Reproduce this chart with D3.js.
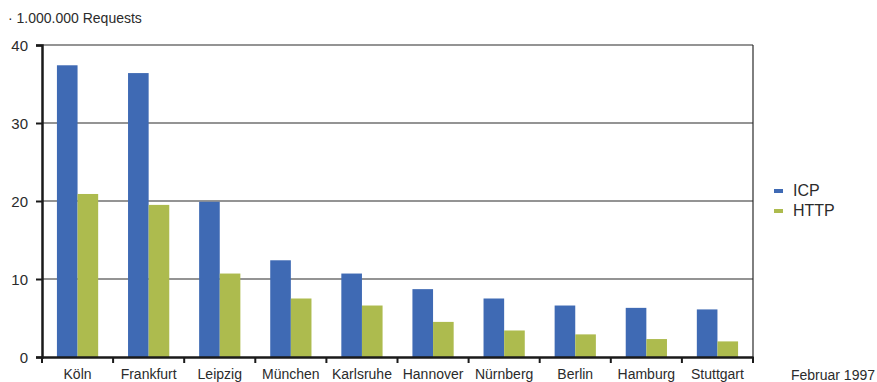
<!DOCTYPE html>
<html>
<head>
<meta charset="utf-8">
<script src="https://cdn.jsdelivr.net/npm/d3@7"></script>
<style>
  html, body { margin: 0; padding: 0; background: #fff; }
  svg { display: block; font-family: "Liberation Sans", Arial, sans-serif; }
</style>
</head>
<body>
<svg id="chart" width="877" height="382"></svg>
<script>
// Requests per city (millions), February 1997
const cities = ["Köln", "Frankfurt", "Leipzig", "München", "Karlsruhe", "Hannover", "Nürnberg", "Berlin", "Hamburg", "Stuttgart"];
const seriesNames = ["ICP", "HTTP"];
const icpValues  = [37.4, 36.4, 19.9, 12.4, 10.7, 8.7, 7.5, 6.6, 6.3, 6.1];
const httpValues = [20.9, 19.5, 10.7, 7.5, 6.6, 4.5, 3.4, 2.9, 2.3, 2.0];
const yTicks = [0, 10, 20, 30, 40];
const unitLabel = "· 1.000.000 Requests";
const dateLabel = "Februar 1997";

const colors = { ICP: "#3f6ab4", HTTP: "#adbb4e" };
const textColor = "#2b2b2b";

const svg = d3.select("#chart");
const plotLeft = 42, plotRight = 753, plotTop = 45, plotBottom = 357;

const x0 = d3.scaleBand().domain(cities).range([plotLeft, plotRight]).padding(0);
const bw = x0.bandwidth();
const x1 = d3.scaleBand().domain(seriesNames).range([bw * 0.21, bw * 0.79]).padding(0);
const y = d3.scaleLinear().domain([0, 40]).range([plotBottom, plotTop]);

const rows = cities.map((c, i) => ({ city: c, ICP: icpValues[i], HTTP: httpValues[i] }));

// horizontal gridlines
svg.append("g")
  .selectAll("line")
  .data(yTicks.filter(t => t > 0))
  .join("line")
  .attr("x1", plotLeft).attr("x2", plotRight)
  .attr("y1", d => y(d)).attr("y2", d => y(d))
  .attr("stroke", "#2a2a2a").attr("stroke-width", 1.2);

// right border
svg.append("line")
  .attr("x1", plotRight).attr("x2", plotRight)
  .attr("y1", plotTop).attr("y2", plotBottom)
  .attr("stroke", "#2a2a2a").attr("stroke-width", 1.2);

// bars
const groups = svg.append("g")
  .selectAll("g")
  .data(rows)
  .join("g")
  .attr("transform", d => `translate(${x0(d.city)},0)`);

groups.selectAll("rect")
  .data(d => seriesNames.map(s => ({ key: s, value: d[s] })))
  .join("rect")
  .attr("x", d => x1(d.key))
  .attr("width", x1.bandwidth())
  .attr("y", d => y(d.value))
  .attr("height", d => y(0) - y(d.value))
  .attr("fill", d => colors[d.key]);

// y axis
const yAxis = svg.append("g")
  .attr("transform", `translate(${plotLeft},0)`)
  .call(d3.axisLeft(y).tickValues(yTicks).tickSize(6).tickPadding(8).tickFormat(d3.format("d")));
yAxis.select(".domain").attr("stroke", "#1a1a1a").attr("stroke-width", 2.5);
yAxis.selectAll(".tick line").attr("stroke", "#1a1a1a").attr("stroke-width", 2);
yAxis.selectAll("text").attr("fill", textColor).style("font-size", "15px").attr("dy", "0.36em");

// x axis: category labels centred on each band
const xAxis = svg.append("g")
  .attr("transform", `translate(0,${plotBottom})`)
  .call(d3.axisBottom(x0).tickSize(0).tickPadding(12));
xAxis.select(".domain").attr("stroke", "#1a1a1a").attr("stroke-width", 2.5);
xAxis.selectAll("text").attr("fill", textColor).style("font-size", "14px");

// boundary ticks between categories
const boundaries = cities.map(c => x0(c)).concat([plotRight]);
svg.append("g")
  .selectAll("line")
  .data(boundaries)
  .join("line")
  .attr("x1", d => d).attr("x2", d => d)
  .attr("y1", plotBottom).attr("y2", plotBottom + 6)
  .attr("stroke", "#1a1a1a").attr("stroke-width", 2);

// unit label
svg.append("text")
  .attr("x", 8).attr("y", 23)
  .attr("fill", textColor).style("font-size", "14px")
  .text(unitLabel);

// date label
svg.append("text")
  .attr("x", 875).attr("y", 380)
  .attr("text-anchor", "end")
  .attr("fill", textColor).style("font-size", "14px")
  .text(dateLabel);

// legend
const legend = svg.append("g").attr("transform", "translate(774,189)");
const item = legend.selectAll("g")
  .data(seriesNames)
  .join("g")
  .attr("transform", (d, i) => `translate(0,${i * 20})`);
item.append("rect")
  .attr("width", 9).attr("height", 4)
  .attr("fill", d => colors[d]);
item.append("text")
  .attr("x", 19).attr("y", 7)
  .attr("fill", textColor).style("font-size", "16px")
  .text(d => d);
</script>
</body>
</html>
